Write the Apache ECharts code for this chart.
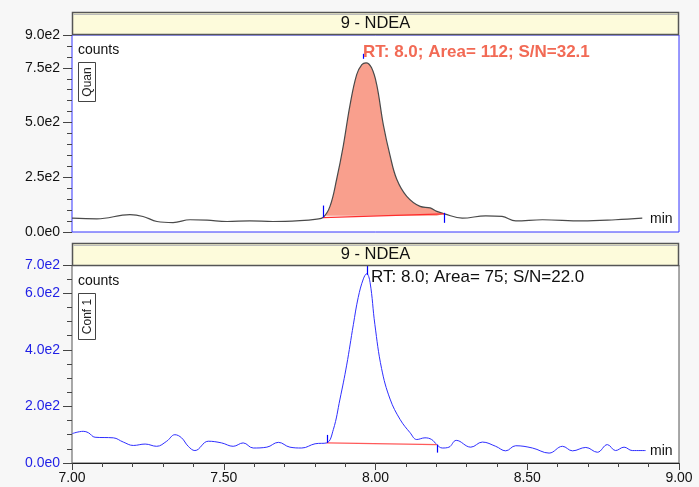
<!DOCTYPE html>
<html>
<head>
<meta charset="utf-8">
<script src="https://cdn.jsdelivr.net/npm/echarts@6/dist/echarts.min.js"></script>
<style>
  html, body { margin: 0; padding: 0; background: #f7f7f7; }
  #main { width: 699px; height: 487px; }
</style>
</head>
<body>
<div id="main"></div>
<script>
// Quan trace (top panel)
const timeQuan = [7.000, 7.082, 7.191, 7.234, 7.280, 7.333, 7.389, 7.445, 7.511, 7.586, 7.662, 7.751, 7.807, 7.827,
  7.850, 7.872, 7.894, 7.916, 7.938, 7.955, 7.969, 7.987, 8.004, 8.026, 8.048, 8.070, 8.103, 8.147, 8.180, 8.202, 8.227,
  8.286, 8.363, 8.417, 8.462, 8.550, 8.681, 8.791, 8.879];
const countsQuan = [63, 60, 79, 71, 48, 43, 56, 54, 48, 51, 48, 52, 59, 66,
  117, 241, 395, 580, 719, 765, 773, 750, 673, 488, 349, 241, 163, 117, 110, 94, 83,
  63, 74, 71, 51, 56, 51, 56, 63];
const quanBaseline = [[7.827, 66], [8.227, 83]];
const quanMarks = [[7.827, 66], [7.958, 773], [8.227, 83]];
const quanYTicks = [0, 250, 500, 750, 900];

// Conf 1 trace (bottom panel)
const timeConf = [7.001, 7.037, 7.054, 7.076, 7.136, 7.169, 7.202, 7.241, 7.279, 7.312, 7.339, 7.361, 7.383, 7.405,
  7.449, 7.493, 7.531, 7.564, 7.597, 7.642, 7.680, 7.718, 7.757, 7.801, 7.839,
  7.861, 7.883, 7.905, 7.927, 7.943, 7.960, 7.971, 7.982, 7.998, 8.020, 8.048, 8.081, 8.114, 8.136, 8.163, 8.185, 8.202,
  8.220, 8.242, 8.266, 8.314, 8.352, 8.396, 8.429, 8.462, 8.517, 8.572, 8.616, 8.649, 8.693, 8.731, 8.764, 8.791,
  8.819, 8.846, 8.890];
const countsConf = [104, 112, 107, 91, 89, 74, 62, 67, 59, 77, 100, 89, 59, 44,
  77, 71, 59, 71, 53, 56, 73, 56, 53, 68, 71,
  118, 226, 346, 489, 585, 651, 669, 639, 489, 334, 226, 154, 107, 83, 89, 83, 65,
  53, 56, 80, 56, 74, 59, 43, 61, 53, 35, 59, 43, 55, 38, 65, 44,
  56, 44, 44];
const confBaseline = [[7.839, 71], [8.202, 65]];
const confMarks = [[7.839, 71], [7.971, 669], [8.202, 65]];
const confYTicks = [0, 200, 400, 600, 700];

const timeTicks = [7.0, 7.5, 8.0, 8.5, 9.0];

const FONT = "'Liberation Sans', Arial, sans-serif";

const quanData = timeQuan.map((t, i) => [t, countsQuan[i]]);
const confData = timeConf.map((t, i) => [t, countsConf[i]]);
const quanPeakData = quanData.filter(d => d[0] >= quanBaseline[0][0] && d[0] <= quanBaseline[1][0]);

function fmtExp(v) {
  if (v === 0) return '0.0e0';
  return (v / 100).toFixed(1) + 'e2';
}

// marker tick offsets in px (above / below the point)
const markOffsets = {
  quan: [[-12, 0], [-9, -4], [-1, 9]],
  conf: [[-8, 0], [-9, 1], [0, 8]]
};

function markSeries(xIdx, yIdx, marks, offsets) {
  return {
    type: 'custom',
    xAxisIndex: xIdx,
    yAxisIndex: yIdx,
    data: marks,
    silent: true,
    z: 6,
    renderItem(params, api) {
      const p = api.coord([api.value(0), api.value(1)]);
      const o = offsets[params.dataIndex];
      const x = Math.round(p[0]) + 0.5;
      return {
        type: 'line',
        shape: { x1: x, y1: p[1] + o[0], x2: x, y2: p[1] + o[1] },
        style: { stroke: '#0000ff', lineWidth: 1.2, fill: null }
      };
    }
  };
}

function yMajor(gridIndex, ticks, color) {
  return {
    type: 'value',
    gridIndex: gridIndex,
    min: ticks[0],
    max: ticks[ticks.length - 1],
    interval: ticks[1] - ticks[0],
    axisLine: { show: false },
    axisTick: { show: true, length: 9, lineStyle: { color: '#444' } },
    axisLabel: { color: color, fontSize: 14, fontFamily: FONT, margin: 12, formatter: fmtExp },
    splitLine: { show: false }
  };
}

function yMinor(gridIndex, ticks) {
  return {
    type: 'value',
    gridIndex: gridIndex,
    position: 'left',
    min: ticks[0],
    max: ticks[ticks.length - 1],
    interval: 50,
    axisLine: { show: false },
    axisTick: { show: true, length: 5, lineStyle: { color: '#444' } },
    axisLabel: { show: false },
    splitLine: { show: false }
  };
}

function titleBar(y) {
  return [
    {
      type: 'rect',
      shape: { x: 72.5, y: y + 0.5, width: 606, height: 22 },
      style: { fill: '#fdfbdb', stroke: '#555', lineWidth: 1.5 },
      z: 100
    },
    {
      type: 'line',
      shape: { x1: 73, y1: y + 2.5, x2: 678, y2: y + 2.5 },
      style: { stroke: '#bbb', lineWidth: 1 },
      z: 101
    },
    {
      type: 'text',
      x: 375.5, y: y + 11.5,
      style: { text: '9 - NDEA', font: '16.5px ' + FONT, fill: '#111', align: 'center', verticalAlign: 'middle' },
      z: 102
    }
  ];
}

function sideTag(label, y, h) {
  return [
    {
      type: 'rect',
      shape: { x: 78.5, y: y + 0.5, width: 17, height: h },
      style: { fill: '#fff', stroke: '#444', lineWidth: 1 },
      z: 100
    },
    {
      type: 'text',
      x: 87.5, y: y + h / 2 + 0.5,
      rotation: Math.PI / 2,
      style: { text: label, font: '12px ' + FONT, fill: '#222', align: 'center', verticalAlign: 'middle' },
      z: 101
    }
  ];
}

function plainText(text, x, y, font, fill) {
  return {
    type: 'text', x: x, y: y, z: 102,
    style: { text: text, font: font, fill: fill, align: 'left', verticalAlign: 'middle' }
  };
}

const chart = echarts.init(document.getElementById('main'), null, { renderer: 'canvas' });

chart.setOption({
  backgroundColor: '#f7f7f7',
  animation: false,
  grid: [
    { left: 72, right: 20, top: 35, height: 197, show: true, backgroundColor: '#fff', borderColor: '#3434ff', borderWidth: 1 },
    { left: 72, right: 20, top: 265, height: 198, show: true, backgroundColor: '#fff', borderColor: '#555', borderWidth: 1 }
  ],
  xAxis: [
    {
      type: 'value', gridIndex: 0, min: timeTicks[0], max: timeTicks[timeTicks.length - 1],
      interval: timeTicks[1] - timeTicks[0],
      axisLine: { show: false }, axisTick: { show: false }, axisLabel: { show: false }, splitLine: { show: false }
    },
    {
      type: 'value', gridIndex: 1, min: timeTicks[0], max: timeTicks[timeTicks.length - 1],
      interval: timeTicks[1] - timeTicks[0],
      axisLine: { show: true, lineStyle: { color: '#222', width: 1 } },
      axisTick: { show: true, length: 7, lineStyle: { color: '#444' } },
      minorTick: { show: true, splitNumber: 5, length: 4, lineStyle: { color: '#444' } },
      axisLabel: { color: '#111', fontSize: 14, fontFamily: FONT, margin: 8, formatter: v => v.toFixed(2) },
      splitLine: { show: false }
    }
  ],
  yAxis: [
    yMajor(0, quanYTicks, '#111'),
    yMinor(0, quanYTicks),
    yMajor(1, confYTicks, '#1f1fe6'),
    yMinor(1, confYTicks)
  ],
  series: [
    {
      type: 'line', xAxisIndex: 0, yAxisIndex: 0,
      data: quanPeakData, smooth: 0.4, symbol: 'none', silent: true,
      lineStyle: { width: 0 },
      areaStyle: { color: '#f99f8d', opacity: 1, origin: 74 },
      z: 2
    },
    {
      type: 'line', xAxisIndex: 0, yAxisIndex: 0,
      data: quanData, smooth: 0.4, symbol: 'none', silent: true,
      lineStyle: { color: '#4a4a4a', width: 1.2 },
      z: 3
    },
    {
      type: 'line', xAxisIndex: 0, yAxisIndex: 0,
      data: quanBaseline, symbol: 'none', silent: true,
      lineStyle: { color: '#ff2d2d', width: 1.2 },
      z: 4
    },
    markSeries(0, 0, quanMarks, markOffsets.quan),
    {
      type: 'line', xAxisIndex: 1, yAxisIndex: 2,
      data: confData, smooth: 0.4, symbol: 'none', silent: true,
      lineStyle: { color: '#2f2fff', width: 1 },
      z: 3
    },
    {
      type: 'line', xAxisIndex: 1, yAxisIndex: 2,
      data: confBaseline, symbol: 'none', silent: true,
      lineStyle: { color: '#ff5a5a', width: 1.2 },
      z: 4
    },
    markSeries(1, 2, confMarks, markOffsets.conf)
  ],
  graphic: [
    ...titleBar(12),
    ...titleBar(243),
    plainText('counts', 78, 50, '14px ' + FONT, '#111'),
    plainText('counts', 78, 281, '14px ' + FONT, '#111'),
    ...sideTag('Quan', 62, 39),
    ...sideTag('Conf 1', 293, 46),
    plainText('RT: 8.0; Area= 112; S/N=32.1', 363, 52, 'bold 17px ' + FONT, '#f26a55'),
    plainText('RT: 8.0; Area= 75; S/N=22.0', 371, 277, '17px ' + FONT, '#111'),
    plainText('min', 650, 219, '14px ' + FONT, '#111'),
    plainText('min', 650, 451, '14px ' + FONT, '#111')
  ]
});
</script>
</body>
</html>
